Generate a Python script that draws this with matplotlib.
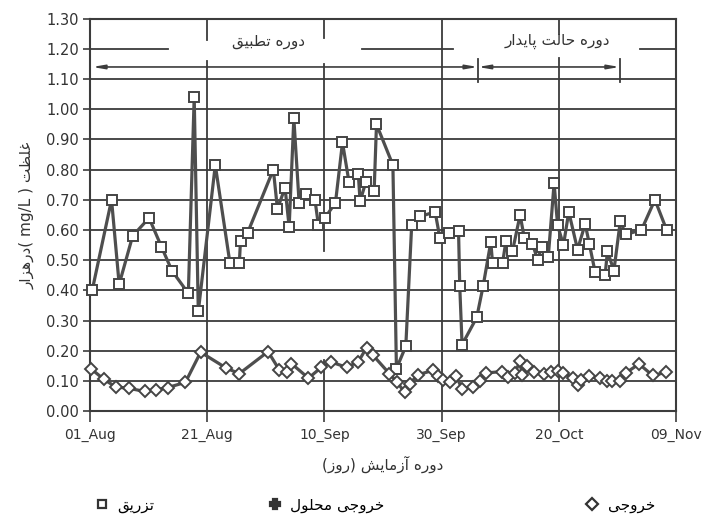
import matplotlib
matplotlib.use('Agg')
import matplotlib.pyplot as plt
from matplotlib import font_manager, ft2font
from matplotlib.lines import Line2D
import numpy as np

# ---------------- data (x = days since 01 Aug) ----------------
inj_day = [0.4, 3.7, 5.0, 7.3, 10.1, 12.2, 14.0, 16.8, 17.8, 18.5, 21.4, 23.9, 25.5, 25.7, 26.9,
           31.3, 32.0, 33.3, 34.0, 34.8, 35.7, 36.9, 38.4, 39.0, 40.1, 41.9, 43.1, 44.2, 45.8, 46.1,
           47.1, 48.5, 48.9, 51.7, 52.3, 53.9, 54.9, 56.4, 58.9, 59.7, 61.3, 62.9, 63.1, 63.5, 66.0,
           67.1, 68.4, 68.7, 70.4, 71.0, 72.1, 73.4, 74.1, 75.5, 76.4, 77.1, 78.2, 79.2, 79.8, 80.8,
           81.7, 83.2, 84.5, 85.2, 86.2, 87.9, 88.3, 89.4, 90.5, 91.4, 94.1, 96.4, 98.4]
inj_val = [0.40, 0.70, 0.42, 0.58, 0.64, 0.545, 0.465, 0.39, 1.04, 0.33, 0.815, 0.49, 0.49, 0.565, 0.59,
           0.80, 0.67, 0.74, 0.61, 0.97, 0.69, 0.72, 0.70, 0.615, 0.64, 0.69, 0.89, 0.76, 0.785, 0.695,
           0.76, 0.73, 0.95, 0.815, 0.14, 0.215, 0.615, 0.645, 0.66, 0.575, 0.59, 0.595, 0.415, 0.22, 0.31,
           0.415, 0.56, 0.49, 0.49, 0.565, 0.53, 0.65, 0.575, 0.555, 0.50, 0.545, 0.51, 0.755, 0.615, 0.55,
           0.66, 0.535, 0.62, 0.555, 0.46, 0.45, 0.53, 0.465, 0.63, 0.585, 0.60, 0.70, 0.60]

out_day = [0.2, 2.4, 4.4, 6.7, 9.4, 11.3, 13.3, 16.3, 18.9, 23.3, 25.5, 30.4, 32.3, 33.6, 34.4,
           37.3, 39.5, 41.2, 43.8, 45.8, 47.2, 48.3, 51.1, 52.4, 53.7, 54.6, 55.9, 58.6, 59.4, 60.3,
           61.4, 62.5, 63.5, 65.4, 66.6, 67.6, 70.3, 71.4, 72.5, 73.4, 73.7, 74.5, 75.8, 77.4, 78.7,
           79.9, 80.8, 82.4, 83.2, 83.8, 85.2, 87.0, 88.2, 89.0, 90.4, 91.4, 93.7, 96.0, 98.3]
out_val = [0.14, 0.105, 0.08, 0.075, 0.065, 0.07, 0.078, 0.095, 0.195, 0.142, 0.124, 0.197, 0.137, 0.128, 0.157,
           0.109, 0.145, 0.162, 0.145, 0.163, 0.21, 0.185, 0.124, 0.096, 0.062, 0.09, 0.12, 0.135, 0.117, 0.103,
           0.095, 0.115, 0.074, 0.081, 0.10, 0.126, 0.131, 0.112, 0.126, 0.166, 0.12, 0.148, 0.131, 0.123, 0.131,
           0.134, 0.126, 0.109, 0.087, 0.103, 0.115, 0.109, 0.098, 0.098, 0.098, 0.126, 0.156, 0.118, 0.128]

sol_day = []   # soluble output series (legend only, not distinguishable in the scan)
sol_val = []

tick_days = [0, 20, 40, 60, 80, 100]
tick_labels = ['01_Aug', '21_Aug', '10_Sep', '30_Sep', '20_Oct', '09_Nov']
y_ticks = [round(0.1 * i, 2) for i in range(14)]

adapt_end = 60.0      # end of adaptation period (day)
steady_start = 66.2   # start of steady-state period (day)
steady_end = 90.4     # end of steady-state period (day)

# ---------------- Persian shaping helpers ----------------
FORMS = {
    'ا': ('\uFE8D', '\uFE8E', None, None),
    'آ': ('\uFE81', '\uFE82', None, None),
    'ب': ('\uFE8F', '\uFE90', '\uFE91', '\uFE92'),
    'پ': ('\uFB56', '\uFB57', '\uFB58', '\uFB59'),
    'ت': ('\uFE95', '\uFE96', '\uFE97', '\uFE98'),
    'ج': ('\uFE9D', '\uFE9E', '\uFE9F', '\uFEA0'),
    'ح': ('\uFEA1', '\uFEA2', '\uFEA3', '\uFEA4'),
    'خ': ('\uFEA5', '\uFEA6', '\uFEA7', '\uFEA8'),
    'د': ('\uFEA9', '\uFEAA', None, None),
    'ر': ('\uFEAD', '\uFEAE', None, None),
    'ز': ('\uFEAF', '\uFEB0', None, None),
    'ش': ('\uFEB5', '\uFEB6', '\uFEB7', '\uFEB8'),
    'ط': ('\uFEC1', '\uFEC2', '\uFEC3', '\uFEC4'),
    'ظ': ('\uFEC5', '\uFEC6', '\uFEC7', '\uFEC8'),
    'غ': ('\uFECD', '\uFECE', '\uFECF', '\uFED0'),
    'ق': ('\uFED5', '\uFED6', '\uFED7', '\uFED8'),
    'ل': ('\uFEDD', '\uFEDE', '\uFEDF', '\uFEE0'),
    'م': ('\uFEE1', '\uFEE2', '\uFEE3', '\uFEE4'),
    'ه': ('\uFEE9', '\uFEEA', '\uFEEB', '\uFEEC'),
    'و': ('\uFEED', '\uFEEE', None, None),
    'ی': ('\uFBFC', '\uFBFD', '\uFBFE', '\uFBFF'),
    'ۀ': ('\uFBA4', '\uFBA5', None, None),
}

try:
    _cm = ft2font.FT2Font(font_manager.findfont('DejaVu Sans')).get_charmap()
    if 0xFBA5 not in _cm:
        FORMS['ۀ'] = FORMS['ه'][:1] + FORMS['ه'][1:2] + (None, None)
except Exception:
    pass


def shape(s):
    out = []
    for i, c in enumerate(s):
        f = FORMS.get(c)
        if f is None:
            out.append(c)
            continue
        prev = s[i - 1] if i > 0 else None
        nxt = s[i + 1] if i + 1 < len(s) else None
        jp = prev in FORMS and FORMS[prev][2] is not None
        jn = nxt in FORMS and f[2] is not None
        if jp and jn:
            g = f[3]
        elif jp:
            g = f[1]
        elif jn:
            g = f[2]
        else:
            g = f[0]
        out.append(g)
    return ''.join(out)


def fa(s):
    return shape(s)[::-1].translate(str.maketrans('()', ')('))


# ---------------- figure ----------------
INK = '#3c3c3c'
LINE = '#4e4e4e'
plt.rcParams['font.family'] = ['DejaVu Sans']

fig = plt.figure(figsize=(7.02, 5.19), dpi=100)
ax = fig.add_axes([0.128, 0.208, 0.835, 0.756])
ax.set_xlim(0, 100)
ax.set_ylim(0, 1.30)

glw = 1.3
# horizontal grid
for v in y_ticks[1:12]:
    ax.plot([0, 100], [v, v], color=INK, lw=glw, zorder=1)
for a, b in [(0, 13.3), (46.4, 62.0), (93.9, 100)]:
    ax.plot([a, b], [1.2, 1.2], color=INK, lw=glw, zorder=1)
# vertical grid (with the gaps of the original)
vsegs = {20: [(0, 1.16), (1.23, 1.30)],
         40: [(0, 0.17), (0.53, 1.15), (1.235, 1.30)],
         60: [(0, 1.30)],
         80: [(0, 1.17), (1.25, 1.30)]}
for d, segs in vsegs.items():
    for a, b in segs:
        ax.plot([d, d], [a, b], color=INK, lw=glw, zorder=1)

for s in ax.spines.values():
    s.set_color(INK)
    s.set_linewidth(1.5)

# period arrows
yl = 1.14
ax.annotate('', xy=(0.4, yl), xytext=(adapt_end, yl),
            arrowprops=dict(arrowstyle='-|>,head_length=0.7,head_width=0.12', color=INK, lw=1.2,
                            shrinkA=0, shrinkB=0))
ax.annotate('', xy=(steady_start, yl), xytext=(adapt_end, yl),
            arrowprops=dict(arrowstyle='-|>,head_length=0.7,head_width=0.12', color=INK, lw=1.2,
                            shrinkA=0, shrinkB=0))
ax.annotate('', xy=(steady_end, yl), xytext=(steady_start, yl),
            arrowprops=dict(arrowstyle='<|-|>,head_length=0.7,head_width=0.12', color=INK, lw=1.2,
                            shrinkA=0, shrinkB=0))
for d in (steady_start, steady_end):
    ax.plot([d, d], [1.09, 1.165], color=INK, lw=1.3)

ax.text(30.4, 1.225, fa('دوره تطبیق'), ha='center', va='center', fontsize=11, color='#333333')
ax.text(79.7, 1.225, fa('دوره حالت پایدار'), ha='center', va='center', fontsize=11, color='#333333')

# data series
ax.plot(inj_day, inj_val, color=LINE, lw=2.3, marker='s', markersize=7.5, markerfacecolor='white',
        markeredgecolor='#444444', markeredgewidth=1.4, zorder=4, clip_on=False)
ax.plot(out_day, out_val, color=LINE, lw=2.3, marker='D', markersize=6, markerfacecolor='white',
        markeredgecolor='#444444', markeredgewidth=1.4, zorder=4, clip_on=False)
ax.plot(sol_day, sol_val, color=LINE, lw=2.3, marker='P', markersize=7, zorder=4)

# ticks
ax.set_yticks(y_ticks)
ax.set_yticklabels([f'{v:.2f}' for v in y_ticks])
ax.set_xticks(tick_days)
ax.set_xticklabels(tick_labels)
ax.tick_params(axis='y', direction='out', length=5, width=1.2, color=INK, labelsize=10.5,
               labelcolor='#333333', pad=3)
ax.tick_params(axis='x', direction='out', length=8, width=1.2, color=INK, labelsize=10,
               labelcolor='#333333', pad=4)

ax.set_xlabel(fa('دورۀ آزمایش (روز)'), fontsize=11, color='#333333', labelpad=10)
ax.set_ylabel(fa('درهزار') + '( mg/L ) ' + fa('غلظت'), fontsize=11, color='#333333', labelpad=8)

# legend items (marker left of text)
items = [('s', 'تزریق', 0.137), ('P', 'خروجی محلول', 0.383), ('D', 'خروجی', 0.835)]
for m, lab, xf in items:
    h = Line2D([], [], linestyle='none', marker=m, markersize=6 if m != 'P' else 7,
               markerfacecolor='white' if m != 'P' else '#333333',
               markeredgecolor='#333333', markeredgewidth=1.6)
    fig.legend([h], [fa(lab)], loc='center left', bbox_to_anchor=(xf, 0.027), frameon=False,
               fontsize=11, handlelength=0.8, handletextpad=0.6, borderaxespad=0, borderpad=0)

fig.savefig('out.png', dpi=100)
